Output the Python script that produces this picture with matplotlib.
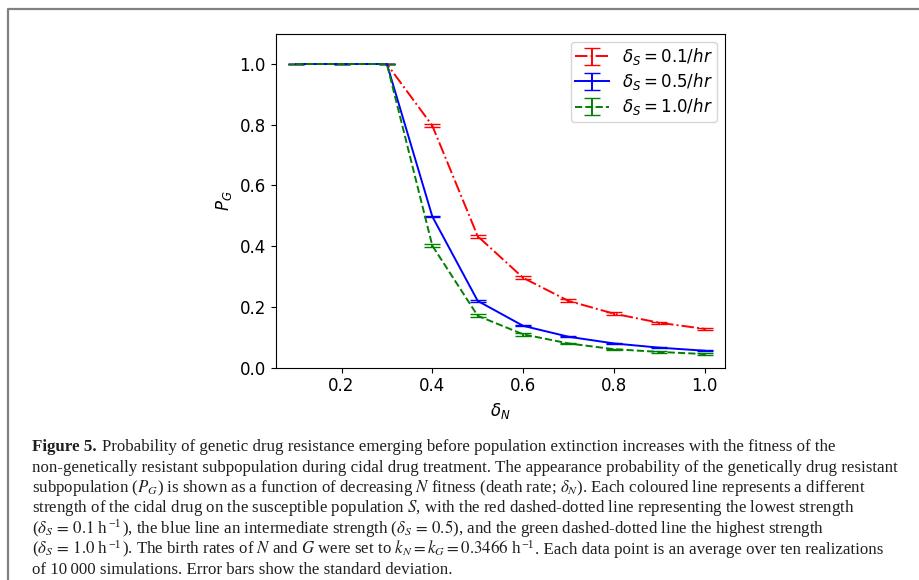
import matplotlib
matplotlib.use('Agg')
import matplotlib.pyplot as plt
from matplotlib.lines import Line2D

# death rate of N
delta_n = [0.1, 0.2, 0.3, 0.4, 0.5, 0.6, 0.7, 0.8, 0.9, 1.0]

# P_G for each delta_S, with standard deviations
pg_01 = [1.0, 1.0, 1.0, 0.797, 0.433, 0.296, 0.220, 0.178, 0.148, 0.128]
sd_01 = [0.0, 0.0, 0.0, 0.005, 0.005, 0.005, 0.005, 0.005, 0.003, 0.003]
pg_05 = [1.0, 1.0, 1.0, 0.498, 0.220, 0.138, 0.102, 0.080, 0.066, 0.056]
sd_05 = [0.0, 0.0, 0.0, 0.002, 0.004, 0.002, 0.002, 0.002, 0.002, 0.002]
pg_10 = [1.0, 1.0, 1.0, 0.402, 0.171, 0.110, 0.080, 0.061, 0.052, 0.045]
sd_10 = [0.0, 0.0, 0.0, 0.006, 0.005, 0.004, 0.002, 0.002, 0.002, 0.002]

labels = [r'$\delta_S = 0.1/hr$', r'$\delta_S = 0.5/hr$', r'$\delta_S = 1.0/hr$']

# caption lines as printed; ^{-1} marks a superscript
caption = [
    'Probability of genetic drug resistance emerging before population extinction increases with the fitness of the',
    'non-genetically resistant subpopulation during cidal drug treatment. The appearance probability of the genetically drug resistant',
    r'subpopulation ($P_G$) is shown as a function of decreasing $N$ fitness (death rate; $\delta_N$). Each coloured line represents a different',
    r'strength of the cidal drug on the susceptible population $S$, with the red dashed-dotted line representing the lowest strength',
    r'($\delta_S\,=\,0.1$ h^{-1}), the blue line an intermediate strength ($\delta_S\,=\,0.5$), and the green dashed-dotted line the highest strength',
    r'($\delta_S\,=\,1.0$ h^{-1}). The birth rates of $N$ and $G$ were set to $k_N = k_G = 0.3466$ h^{-1}. Each data point is an average over ten realizations',
    'of 10\u2009000 simulations. Error bars show the standard deviation.',
]

W, H = 919, 580
fig = plt.figure(figsize=(W / 100, H / 100), dpi=100)
ax = fig.add_axes([0.300, 0.366, 0.489, 0.576])

ax.errorbar(delta_n, pg_01, yerr=sd_01, color='red', ls='-.', lw=1.4, capsize=6, label=labels[0])
ax.errorbar(delta_n, pg_05, yerr=sd_05, color='blue', ls='-', lw=1.4, capsize=6, label=labels[1])
ax.errorbar(delta_n, pg_10, yerr=sd_10, color='green', ls='--', lw=1.4, capsize=6, label=labels[2])

ax.set_ylim(0, 1.1)
ax.set_xticks([0.2, 0.4, 0.6, 0.8, 1.0])
ax.set_yticks([0.0, 0.2, 0.4, 0.6, 0.8, 1.0])
ax.tick_params(labelsize=12)
ax.set_xlabel(r'$\delta_N$', fontsize=12)
ax.set_ylabel(r'$P_G$', fontsize=12)
ax.legend(loc='upper right', fontsize=12, labelspacing=0.25, borderpad=0.25)

# caption, one line at a time, superscripts as small raised texts
renderer = fig.canvas.get_renderer()
cap_kw = dict(family=['Liberation Serif', 'DejaVu Serif'], math_fontfamily='stix',
              color='#231f20', va='baseline')


def put(x, y, s, size=12.2, **kw):
    t = fig.text(x / W, 1 - y / H, s, fontsize=size, **cap_kw, **kw)
    return t.get_window_extent(renderer).x1


put(32, 451, 'Figure 5.', fontweight='bold')
for i, line in enumerate(caption):
    x = 102 if i == 0 else 32
    y = 451 + 20.5 * i
    parts = line.split('^{-1}')
    for j, part in enumerate(parts):
        x = put(x, y, part)
        if j < len(parts) - 1:
            x = put(x + 0.5, y - 6, '\u22121', size=8.5) + 0.5

# page frame
fig.add_artist(Line2D([8 / W, 8 / W, 1], [0, 1 - 9 / H, 1 - 9 / H],
                      color='#808080', lw=1.6, transform=fig.transFigure))

fig.savefig('out.png', dpi=100)
